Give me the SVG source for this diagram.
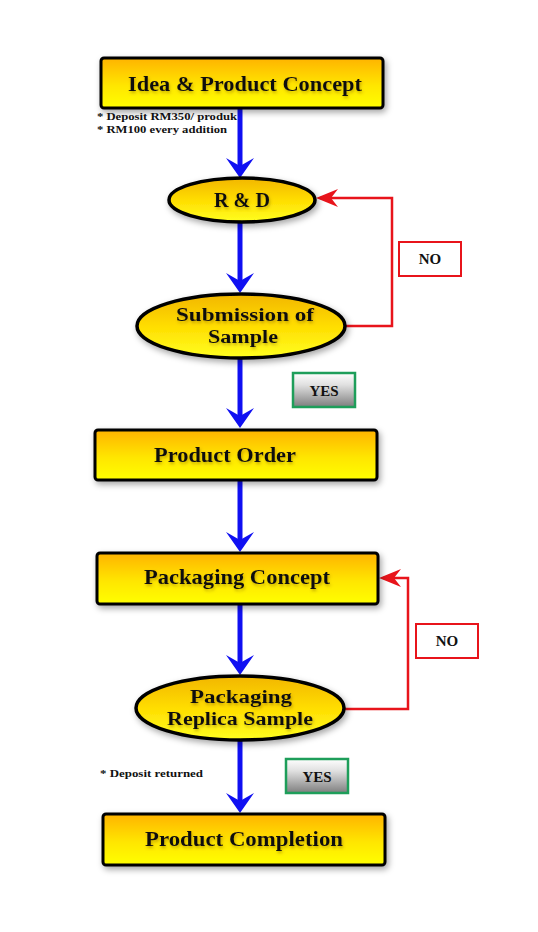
<svg xmlns="http://www.w3.org/2000/svg" width="538" height="932" viewBox="0 0 538 932">
<defs>
<linearGradient id="boxg" x1="0" y1="0" x2="0" y2="1">
<stop offset="0" stop-color="#FFB300"/>
<stop offset="0.55" stop-color="#FFE600"/>
<stop offset="1" stop-color="#FFFF00"/>
</linearGradient>
<linearGradient id="ellg" x1="0" y1="0" x2="0" y2="1">
<stop offset="0" stop-color="#F2B600"/>
<stop offset="0.5" stop-color="#FFDD00"/>
<stop offset="1" stop-color="#FFFF20"/>
</linearGradient>
<linearGradient id="yesg" x1="0" y1="0" x2="0" y2="1">
<stop offset="0" stop-color="#FFFFFF"/>
<stop offset="0.35" stop-color="#E0E0E0"/>
<stop offset="1" stop-color="#7E7E7E"/>
</linearGradient>
<filter id="shadow" x="-10%" y="-20%" width="130%" height="160%">
<feDropShadow dx="2" dy="3" stdDeviation="3" flood-color="#000" flood-opacity="0.35"/>
</filter>
<filter id="tglow" x="-10%" y="-30%" width="120%" height="160%">
<feDropShadow dx="1" dy="2" stdDeviation="1.6" flood-color="#806000" flood-opacity="0.45"/>
</filter>
<marker id="blueHead" viewBox="0 0 20 28" markerWidth="20" markerHeight="28" markerUnits="userSpaceOnUse" refX="14" refY="14" orient="auto">
<path d="M0,0 L20,14 L0,28 L8,14 Z" fill="#1010F2"/>
</marker>
<marker id="redHead" viewBox="0 0 22 18" markerWidth="22" markerHeight="18" markerUnits="userSpaceOnUse" refX="18" refY="9" orient="auto">
<path d="M0,0 L22,9 L0,18 L7,9 Z" fill="#E8141B"/>
</marker>
</defs>
<style>
.box{fill:url(#boxg);stroke:#000;stroke-width:3;filter:url(#shadow);}
.ell{fill:url(#ellg);stroke:#000;stroke-width:3.5;filter:url(#shadow);}
.t{font-family:"Liberation Serif","DejaVu Serif",serif;font-weight:bold;fill:#111;text-anchor:middle;filter:url(#tglow);}
.big{font-size:22px;}
.mid{font-size:18.5px;}
.lab{font-family:"Liberation Serif","DejaVu Serif",serif;font-weight:bold;font-size:15px;fill:#111;text-anchor:middle;}
.note{font-family:"Liberation Serif","DejaVu Serif",serif;font-weight:bold;font-size:11px;fill:#111;}
.no{fill:#fff;stroke:#E8141B;stroke-width:2;}
.yes{fill:url(#yesg);stroke:#1E9E5A;stroke-width:2.5;}
.blue{stroke:#1010F2;stroke-width:5;fill:none;marker-end:url(#blueHead);}
.red{stroke:#E8141B;stroke-width:2.5;fill:none;marker-end:url(#redHead);}
</style>
<rect width="538" height="932" fill="#fff"/>

<g id="connectors">
<line class="blue" x1="240" y1="108" x2="240" y2="172"/>
<line class="blue" x1="240" y1="223" x2="240" y2="287"/>
<line class="blue" x1="240" y1="358" x2="240" y2="422"/>
<line class="blue" x1="240" y1="480" x2="240" y2="546"/>
<line class="blue" x1="240" y1="604" x2="240" y2="669"/>
<line class="blue" x1="240" y1="740" x2="240" y2="807"/>
<path class="red" d="M346,326 H392 V198 H320"/>
<path class="red" d="M344,709 H408 V578 H383"/>
</g>

<g id="idea">
<rect class="box" x="101" y="58" width="282" height="50" rx="3"/>
<text class="t big" x="245" y="91" textLength="234" lengthAdjust="spacingAndGlyphs">Idea &amp; Product Concept</text>
</g>
<g id="notes1">
<text class="note" x="97" y="120" textLength="140" lengthAdjust="spacingAndGlyphs">* Deposit RM350/ produk</text>
<text class="note" x="97" y="133" textLength="130" lengthAdjust="spacingAndGlyphs">* RM100 every addition</text>
</g>
<g id="rd">
<ellipse class="ell" cx="242" cy="200" rx="73" ry="22"/>
<text class="t big" x="242" y="207" textLength="56" lengthAdjust="spacingAndGlyphs">R &amp; D</text>
</g>
<g id="submission">
<ellipse class="ell" cx="241" cy="326" rx="104" ry="32"/>
<text class="t mid" x="245" y="321" textLength="138" lengthAdjust="spacingAndGlyphs">Submission of</text>
<text class="t mid" x="243" y="343" textLength="70" lengthAdjust="spacingAndGlyphs">Sample</text>
</g>
<g id="no1">
<rect class="no" x="399" y="242" width="62" height="34"/>
<text class="lab" x="430" y="264">NO</text>
</g>
<g id="yes1">
<rect class="yes" x="293" y="373" width="62" height="34"/>
<text class="lab" x="324" y="396">YES</text>
</g>
<g id="order">
<rect class="box" x="95" y="430" width="282" height="50" rx="3"/>
<text class="t big" x="225" y="462" textLength="142" lengthAdjust="spacingAndGlyphs">Product Order</text>
</g>
<g id="pkgconcept">
<rect class="box" x="97" y="553" width="281" height="51" rx="3"/>
<text class="t big" x="237" y="584" textLength="186" lengthAdjust="spacingAndGlyphs">Packaging Concept</text>
</g>
<g id="no2">
<rect class="no" x="416" y="624" width="62" height="34"/>
<text class="lab" x="447" y="646">NO</text>
</g>
<g id="replica">
<ellipse class="ell" cx="240" cy="708" rx="104" ry="32"/>
<text class="t mid" x="241" y="703" textLength="102" lengthAdjust="spacingAndGlyphs">Packaging</text>
<text class="t mid" x="240" y="725" textLength="146" lengthAdjust="spacingAndGlyphs">Replica Sample</text>
</g>
<g id="notes2">
<text class="note" x="100" y="777" textLength="103" lengthAdjust="spacingAndGlyphs">* Deposit returned</text>
</g>
<g id="yes2">
<rect class="yes" x="286" y="759" width="62" height="34"/>
<text class="lab" x="317" y="782">YES</text>
</g>
<g id="completion">
<rect class="box" x="103" y="814" width="282" height="51" rx="3"/>
<text class="t big" x="244" y="846" textLength="198" lengthAdjust="spacingAndGlyphs">Product Completion</text>
</g>
</svg>
